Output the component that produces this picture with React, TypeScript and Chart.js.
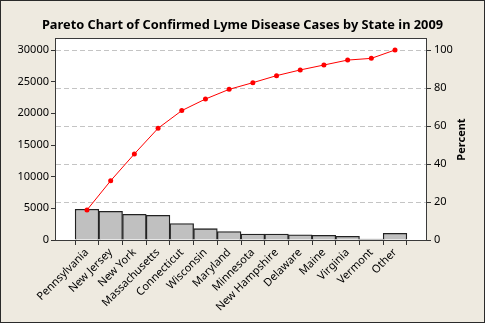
import React, { useEffect, useRef } from 'react';
import { Chart, registerables } from 'chart.js';

Chart.register(...registerables);

const chartTitle = 'Pareto Chart of Confirmed Lyme Disease Cases by State in 2009';
const rightAxisTitle = 'Percent';

const categories = [
  'Pennsylvania', 'New Jersey', 'New York', 'Massachusetts', 'Connecticut', 'Wisconsin',
  'Maryland', 'Minnesota', 'New Hampshire', 'Delaware', 'Maine', 'Virginia', 'Vermont', 'Other',
];
const cases = [4860, 4530, 4060, 3900, 2600, 1790, 1320, 950, 950, 820, 740, 580, 160, 1060];
const cumulativePercent = [15.8, 31.2, 45.3, 58.8, 68.1, 74.2, 79.3, 82.8, 86.5, 89.5, 92.1, 94.7, 95.6, 100];
const caseTicks = [0, 5000, 10000, 15000, 20000, 25000, 30000];
const percentTicks = [0, 20, 40, 60, 80, 100];

const FONT = '"Noto Sans", "DejaVu Sans", sans-serif';

const framePlugin = {
  id: 'frame',
  beforeDraw(chart: any) {
    const { ctx, width, height, chartArea: a } = chart;
    ctx.save();
    ctx.fillStyle = '#EEEAE0';
    ctx.fillRect(0, 0, width, height);
    ctx.fillStyle = '#ffffff';
    ctx.fillRect(a.left, a.top, a.right - a.left, a.bottom - a.top);
    ctx.restore();
  },
  afterDraw(chart: any) {
    const { ctx, width, height, chartArea: a } = chart;
    ctx.save();
    ctx.strokeStyle = '#3a3a3a';
    ctx.lineWidth = 1;
    ctx.strokeRect(a.left - 0.5, a.top - 0.5, a.right - a.left + 1, a.bottom - a.top + 1);
    ctx.strokeStyle = '#2a2a2a';
    ctx.strokeRect(0.5, 0.5, width - 1, height - 1);
    ctx.fillStyle = '#000';
    ctx.font = `bold 12.8px ${FONT}`;
    ctx.textAlign = 'center';
    ctx.textBaseline = 'alphabetic';
    ctx.fillText(chartTitle, width / 2, 29);
    ctx.translate(462, (a.top + a.bottom) / 2);
    ctx.rotate(-Math.PI / 2);
    ctx.font = `bold 11px ${FONT}`;
    ctx.textBaseline = 'middle';
    ctx.fillText(rightAxisTitle, 0, 0);
    ctx.restore();
  },
};

export default function App() {
  const ref = useRef<HTMLCanvasElement | null>(null);
  useEffect(() => {
    document.body.style.margin = '0';
    const canvas = ref.current;
    if (!canvas) return;
    const tickFont = { family: FONT, size: 11 };
    const chart = new Chart(canvas, {
      type: 'bar',
      data: {
        datasets: [
          {
            type: 'line',
            data: categories.map((_, i) => ({ x: i, y: cumulativePercent[i] })),
            yAxisID: 'y1',
            borderColor: '#ff0000',
            borderWidth: 1,
            pointRadius: 2.5,
            pointBackgroundColor: '#ff0000',
            pointBorderWidth: 0,
            tension: 0,
            order: 0,
          } as any,
          {
            type: 'bar',
            data: categories.map((_, i) => ({ x: i, y: cases[i] })),
            yAxisID: 'y',
            backgroundColor: '#c0c0c0',
            borderColor: '#222222',
            borderWidth: 1.3,
            barPercentage: 1,
            categoryPercentage: 1,
            order: 1,
          } as any,
        ],
      },
      options: {
        responsive: false,
        animation: false,
        layout: { padding: { top: 39, left: 0, right: 0, bottom: 0 } },
        plugins: {
          legend: { display: false },
          title: { display: false },
          tooltip: { enabled: false },
        },
        scales: {
          x: {
            type: 'linear',
            position: 'bottom',
            min: -0.75,
            max: 13.75,
            afterFit: (s: any) => { s.height = 83; },
            afterBuildTicks: (s: any) => { s.ticks = categories.map((_, i) => ({ value: i })); },
            grid: { drawOnChartArea: false, drawTicks: true, tickLength: 5, color: '#333' },
            border: { display: false },
            ticks: {
              autoSkip: false,
              minRotation: 45,
              maxRotation: 45,
              padding: 1,
              color: '#000',
              font: tickFont,
              callback: (v: any) => categories[Math.round(v)] ?? '',
            },
          },
          y: {
            type: 'linear',
            position: 'left',
            min: 0,
            max: 31737,
            afterFit: (s: any) => { s.width = 56; },
            afterBuildTicks: (s: any) => { s.ticks = caseTicks.map((v) => ({ value: v })); },
            grid: { drawOnChartArea: false, tickLength: 5, color: '#333' },
            border: { display: false },
            ticks: { padding: 2, color: '#000', font: tickFont, callback: (v: any) => String(v) },
          },
          y1: {
            type: 'linear',
            position: 'right',
            min: 0,
            max: 105.79,
            afterFit: (s: any) => { s.width = 59; },
            afterBuildTicks: (s: any) => { s.ticks = percentTicks.map((v) => ({ value: v })); },
            grid: { drawOnChartArea: true, tickLength: 5, color: '#c4c4c4', tickColor: '#333' },
            border: { display: false, dash: [5, 3] },
            ticks: { padding: 3, color: '#000', font: tickFont, callback: (v: any) => String(v) },
          },
        },
      } as any,
      plugins: [framePlugin],
    });
    return () => chart.destroy();
  }, []);
  return (
    <div style={{ position: 'absolute', left: 0, top: 0, width: 485, height: 323 }}>
      <canvas ref={ref} width={485} height={323} />
    </div>
  );
}
